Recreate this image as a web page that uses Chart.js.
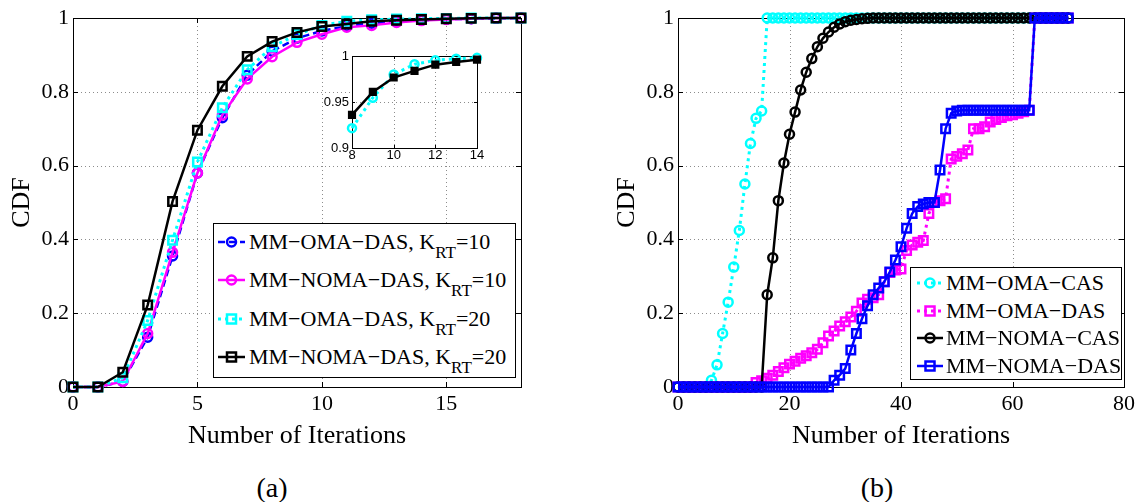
<!DOCTYPE html>
<html>
<head>
<meta charset="utf-8">
<script src="https://cdn.jsdelivr.net/npm/chart.js@4/dist/chart.umd.min.js"></script>
<style>
body { margin: 0; background: #fff; }
#fig { position: relative; width: 1139px; height: 502px; overflow: hidden; font-family: 'Liberation Serif', 'Times New Roman', serif; color: #000; }
canvas { position: absolute; }
.leg { position: absolute; background: #fff; border: 1px solid #000; box-sizing: border-box; }
.row { position: absolute; height: 30px; display: flex; align-items: center; white-space: nowrap; font-size: 22px; }
.row svg { flex: none; }
.row sub { font-size: 17px; vertical-align: -9px; line-height: 0; }
.cap { position: absolute; font-size: 28px; line-height: 28px; transform: translateX(-50%); }
</style>
</head>
<body>
<div id="fig">
  <canvas id="chartA" width="560" height="460" style="left:0;top:0"></canvas>
  <canvas id="chartB" width="539" height="460" style="left:600px;top:0"></canvas>
  <canvas id="chartZoom" width="200" height="130" style="left:300px;top:40px"></canvas>
  <div class="leg" id="legA" style="left:213px;top:223px;width:303px;height:155px"></div>
  <div class="leg" id="legB" style="left:910px;top:267px;width:212px;height:113px"></div>
  <div class="cap" style="left:272px;top:474px">(a)</div>
  <div class="cap" style="left:877px;top:474px">(b)</div>
</div>
<script>
// ---- (a) CDF of the number of iterations, K_RT = 10 / 20 ----
const iterA = [0, 1, 2, 3, 4, 5, 6, 7, 8, 9, 10, 11, 12, 13, 14, 15, 16, 17, 18];
const omaDas10  = [0, 0, 0.015, 0.135, 0.355, 0.58, 0.73, 0.845, 0.91, 0.945, 0.965, 0.978, 0.986, 0.99, 0.994, 0.997, 0.998, 0.999, 1];
const nomaDas10 = [0, 0, 0.015, 0.145, 0.365, 0.58, 0.737, 0.835, 0.895, 0.934, 0.956, 0.975, 0.98, 0.988, 0.993, 0.996, 0.998, 1, 1];
const omaDas20  = [0, 0, 0.025, 0.18, 0.398, 0.61, 0.757, 0.86, 0.922, 0.955, 0.98, 0.991, 0.995, 0.997, 0.998, 0.999, 1, 1, 1];
const nomaDas20 = [0, 0, 0.04, 0.222, 0.503, 0.696, 0.815, 0.896, 0.936, 0.961, 0.977, 0.984, 0.991, 0.994, 0.996, 0.998, 0.999, 1, 1];
const xTicksA = [0, 5, 10, 15];
const yTicks = [0, 0.2, 0.4, 0.6, 0.8, 1];

// inset (zoom on iterations 8..14)
const iterZoom = [8, 9, 10, 11, 12, 13, 14];
const omaDas20Zoom  = [0.9216, 0.9547, 0.98, 0.991, 0.9953, 0.997, 0.998];
const nomaDas20Zoom = [0.936, 0.961, 0.9766, 0.9838, 0.9906, 0.9935, 0.996];
const xTicksZoom = [8, 10, 12, 14];
const yTicksZoom = [0.9, 0.95, 1];

// ---- (b) CAS vs DAS ----
const iterB = [
  0, 1, 2, 3, 4, 5, 6, 7, 8, 9,
  10, 11, 12, 13, 14, 15, 16, 17, 18, 19,
  20, 21, 22, 23, 24, 25, 26, 27, 28, 29,
  30, 31, 32, 33, 34, 35, 36, 37, 38, 39,
  40, 41, 42, 43, 44, 45, 46, 47, 48, 49,
  50, 51, 52, 53, 54, 55, 56, 57, 58, 59,
  60, 61, 62, 63, 64, 65, 66, 67, 68, 69,
  70];
const omaCas = [
  0, 0, 0, 0, 0, 0, 0.018, 0.06, 0.145, 0.23,
  0.325, 0.424, 0.55, 0.66, 0.728, 0.748, 1, 1, 1, 1,
  1, 1, 1, 1, 1, 1, 1, 1, 1, 1,
  1, 1, 1, 1, 1, 1, 1, 1, 1, 1,
  1, 1, 1, 1, 1, 1, 1, 1, 1, 1,
  1, 1, 1, 1, 1, 1, 1, 1, 1, 1,
  1, 1, 1, 1, 1, 1, 1, 1, 1, 1,
  1];
const omaDasB = [
  0, 0, 0, 0, 0, 0, 0, 0, 0, 0,
  0, 0, 0, 0, 0.012, 0.017, 0.024, 0.032, 0.042, 0.052,
  0.062, 0.07, 0.078, 0.085, 0.093, 0.102, 0.12, 0.138, 0.152, 0.165,
  0.177, 0.19, 0.205, 0.228, 0.238, 0.242, 0.25, 0.285, 0.31, 0.317,
  0.32, 0.37, 0.385, 0.392, 0.397, 0.47, 0.5, 0.505, 0.51, 0.618,
  0.625, 0.632, 0.642, 0.7, 0.7, 0.705, 0.718, 0.725, 0.73, 0.735,
  0.738, 0.742, 0.746, 0.75, 1, 1, 1, 1, 1, 1,
  1];
const nomaCas = [
  0, 0, 0, 0, 0, 0, 0, 0, 0, 0,
  0, 0, 0, 0, 0, 0, 0.25, 0.35, 0.505, 0.607,
  0.685, 0.745, 0.805, 0.853, 0.89, 0.922, 0.945, 0.962, 0.975, 0.984,
  0.99, 0.994, 0.996, 0.998, 0.999, 1, 1, 1, 1, 1,
  1, 1, 1, 1, 1, 1, 1, 1, 1, 1,
  1, 1, 1, 1, 1, 1, 1, 1, 1, 1,
  1, 1, 1, 1, 1, 1, 1, 1, 1, 1,
  1];
const nomaDasB = [
  0, 0, 0, 0, 0, 0, 0, 0, 0, 0,
  0, 0, 0, 0, 0, 0, 0, 0, 0, 0,
  0, 0, 0, 0, 0, 0, 0, 0, 0.018, 0.032,
  0.05, 0.1, 0.145, 0.185, 0.22, 0.25, 0.268, 0.285, 0.312, 0.344,
  0.38, 0.43, 0.47, 0.489, 0.496, 0.5, 0.5, 0.588, 0.7, 0.742,
  0.748, 0.75, 0.75, 0.75, 0.75, 0.75, 0.75, 0.75, 0.75, 0.75,
  0.75, 0.75, 0.75, 0.75, 1, 1, 1, 1, 1, 1,
  1];
const xTicksB = [0, 20, 40, 60, 80];

const SERIF = "'Liberation Serif', 'Times New Roman', serif";
const SANS = "'Liberation Sans', Arial, sans-serif";
const CYAN = '#00ffff', MAGENTA = '#ff00ff', BLUE = '#0000ff', BLACK = '#000000';

// MATLAB-like look: dotted grid, inside ticks on all 4 sides, black box
const matlabAxes = {
  id: 'matlabAxes',
  beforeDatasetsDraw(chart, args, o) {
    const { ctx, chartArea: a } = chart;
    const sx = chart.scales.x, sy = chart.scales.y;
    const px = v => Math.round(sx.getPixelForValue(v)) + 0.5;
    const py = v => Math.round(sy.getPixelForValue(v)) + 0.5;
    ctx.save();
    if (o.fill) {
      ctx.fillStyle = '#fff';
      ctx.fillRect(a.left, a.top, a.right - a.left, a.bottom - a.top);
    }
    ctx.lineWidth = 1;
    ctx.strokeStyle = '#8c8c8c';
    ctx.setLineDash([1, 3]);
    ctx.beginPath();
    sx.ticks.forEach(t => {
      const p = px(t.value);
      if (p > a.left + 2 && p < a.right - 2) { ctx.moveTo(p, a.top); ctx.lineTo(p, a.bottom); }
    });
    sy.ticks.forEach(t => {
      const p = py(t.value);
      if (p > a.top + 2 && p < a.bottom - 2) { ctx.moveTo(a.left, p); ctx.lineTo(a.right, p); }
    });
    ctx.stroke();
    ctx.setLineDash([]);
    ctx.strokeStyle = '#000';
    ctx.beginPath();
    const L = o.tick;
    sx.ticks.forEach(t => {
      const p = px(t.value);
      ctx.moveTo(p, a.bottom); ctx.lineTo(p, a.bottom - L);
      ctx.moveTo(p, a.top); ctx.lineTo(p, a.top + L);
    });
    sy.ticks.forEach(t => {
      const p = py(t.value);
      ctx.moveTo(a.left, p); ctx.lineTo(a.left + L, p);
      ctx.moveTo(a.right, p); ctx.lineTo(a.right - L, p);
    });
    ctx.stroke();
    ctx.strokeRect(Math.round(a.left) + 0.5, Math.round(a.top) + 0.5,
      Math.round(a.right - a.left), Math.round(a.bottom - a.top));
    ctx.restore();
  }
};

function series(xs, ys, s, i, n) {
  return {
    label: s.name,
    data: xs.map((x, k) => ({ x: x, y: ys[k] })),
    borderColor: s.color,
    borderWidth: s.lw || 2.5,
    borderDash: s.dash || [],
    tension: 0,
    pointStyle: s.marker === 'square' ? 'rect' : 'circle',
    pointRadius: s.r,
    pointBorderWidth: s.pbw || 2.5,
    pointBorderColor: s.color,
    pointBackgroundColor: s.filled ? s.color : 'rgba(0,0,0,0)',
    clip: false,
    order: n - 1 - i
  };
}

function buildChart(id, cfg) {
  const tickFont = { family: cfg.font, size: cfg.tickSize };
  const titleFont = { family: SERIF, size: 26 };
  return new Chart(document.getElementById(id), {
    type: 'line',
    data: { datasets: cfg.list.map((s, i) => series(cfg.xs, s.data, s, i, cfg.list.length)) },
    plugins: [matlabAxes],
    options: {
      responsive: false,
      animation: false,
      events: [],
      layout: { padding: { top: cfg.pad.top, right: cfg.pad.right, left: 0, bottom: 0 } },
      plugins: {
        legend: { display: false },
        tooltip: { enabled: false },
        matlabAxes: { fill: !!cfg.fill, tick: cfg.tick }
      },
      scales: {
        x: {
          type: 'linear', min: cfg.xMin, max: cfg.xMax,
          afterBuildTicks: s => { s.ticks = cfg.xTicks.map(v => ({ value: v })); },
          afterFit: s => { s.height = cfg.xh; },
          grid: { display: false, drawTicks: false },
          border: { display: false },
          ticks: { font: tickFont, color: '#000', padding: cfg.xPad, maxRotation: 0, autoSkip: false, callback: v => String(v) },
          title: { display: !!cfg.xTitle, text: cfg.xTitle, font: titleFont, color: '#000', padding: { top: 0, bottom: 8 } }
        },
        y: {
          min: cfg.yMin, max: cfg.yMax,
          afterBuildTicks: s => { s.ticks = cfg.yTicks.map(v => ({ value: v })); },
          afterFit: s => { s.width = cfg.yw; },
          grid: { display: false, drawTicks: false },
          border: { display: false },
          ticks: { font: tickFont, color: '#000', padding: cfg.yPad, autoSkip: false, callback: v => String(v) },
          title: { display: !!cfg.yTitle, text: cfg.yTitle, font: titleFont, color: '#000', padding: { top: cfg.yTitlePad, bottom: 0 } }
        }
      }
    }
  });
}

const listA = [
  { name: 'MM−OMA−DAS, K<sub>RT</sub>=10', data: omaDas10, color: BLUE, dash: [7, 4], marker: 'circle', r: 4.5 },
  { name: 'MM−NOMA−DAS, K<sub>RT</sub>=10', data: nomaDas10, color: MAGENTA, marker: 'circle', r: 4.5 },
  { name: 'MM−OMA−DAS, K<sub>RT</sub>=20', data: omaDas20, color: CYAN, dash: [3, 4], lw: 3, marker: 'square', r: 6 },
  { name: 'MM−NOMA−DAS, K<sub>RT</sub>=20', data: nomaDas20, color: BLACK, marker: 'square', r: 6 }
];
const listZoom = [
  { name: 'MM−OMA−DAS, K<sub>RT</sub>=20', data: omaDas20Zoom, color: CYAN, dash: [3, 4], lw: 3, marker: 'circle', r: 4 },
  { name: 'MM−NOMA−DAS, K<sub>RT</sub>=20', data: nomaDas20Zoom, color: BLACK, marker: 'square', r: 4, filled: true }
];
const listB = [
  { name: 'MM−OMA−CAS', data: omaCas, color: CYAN, dash: [3, 4], lw: 3, marker: 'circle', r: 4.5 },
  { name: 'MM−OMA−DAS', data: omaDasB, color: MAGENTA, dash: [3, 4], lw: 3, marker: 'square', r: 6 },
  { name: 'MM−NOMA−CAS', data: nomaCas, color: BLACK, marker: 'circle', r: 4.5 },
  { name: 'MM−NOMA−DAS', data: nomaDasB, color: BLUE, marker: 'square', r: 6 }
];

buildChart('chartA', {
  xs: iterA, list: listA, font: SERIF, tickSize: 22,
  xMin: 0, xMax: 18, yMin: 0, yMax: 1, xTicks: xTicksA, yTicks: yTicks,
  pad: { top: 18, right: 39 }, xh: 73, yw: 73, xPad: 4, yPad: 4, tick: 5,
  xTitle: 'Number of Iterations', yTitle: 'CDF', yTitlePad: 7
});
buildChart('chartB', {
  xs: iterB, list: listB, font: SERIF, tickSize: 22,
  xMin: 0, xMax: 80, yMin: 0, yMax: 1, xTicks: xTicksB, yTicks: yTicks,
  pad: { top: 18, right: 14 }, xh: 73, yw: 78, xPad: 4, yPad: 4, tick: 5,
  xTitle: 'Number of Iterations', yTitle: 'CDF', yTitlePad: 12
});
buildChart('chartZoom', {
  xs: iterZoom, list: listZoom, font: SANS, tickSize: 13, fill: true,
  xMin: 8, xMax: 14, yMin: 0.9, yMax: 1, xTicks: xTicksZoom, yTicks: yTicksZoom,
  pad: { top: 16, right: 23 }, xh: 22, yw: 52, xPad: 0, yPad: 3, tick: 3
});

// legends (HTML, so the K_RT subscript stays real text)
function sampleSvg(s, w) {
  const c = w / 2, lw = s.lw || 2.5;
  const dash = s.dash ? ` stroke-dasharray="${s.dash.join(',')}"` : '';
  const fill = s.filled ? s.color : 'none';
  const mk = s.marker === 'square'
    ? `<rect x="${c - 4.5}" y="10.5" width="9" height="9" fill="${fill}" stroke="${s.color}" stroke-width="2.5"/>`
    : `<circle cx="${c}" cy="15" r="4.5" fill="${fill}" stroke="${s.color}" stroke-width="2.5"/>`;
  return `<svg width="${w}" height="30"><line x1="0" y1="15" x2="${w}" y2="15" stroke="${s.color}" stroke-width="${lw}"${dash}/>${mk}</svg>`;
}
function fillLegend(id, list, first, step, left, w, gap) {
  const box = document.getElementById(id);
  list.forEach((s, i) => {
    const row = document.createElement('div');
    row.className = 'row';
    row.style.left = left + 'px';
    row.style.top = (first + i * step - 15) + 'px';
    row.innerHTML = sampleSvg(s, w) + `<span style="margin-left:${gap}px">${s.name}</span>`;
    box.appendChild(row);
  });
}
fillLegend('legA', listA, 18, 38.3, 4, 27, 4);
fillLegend('legB', listB, 15, 27.7, 6, 26, 3);
</script>
</body>
</html>
